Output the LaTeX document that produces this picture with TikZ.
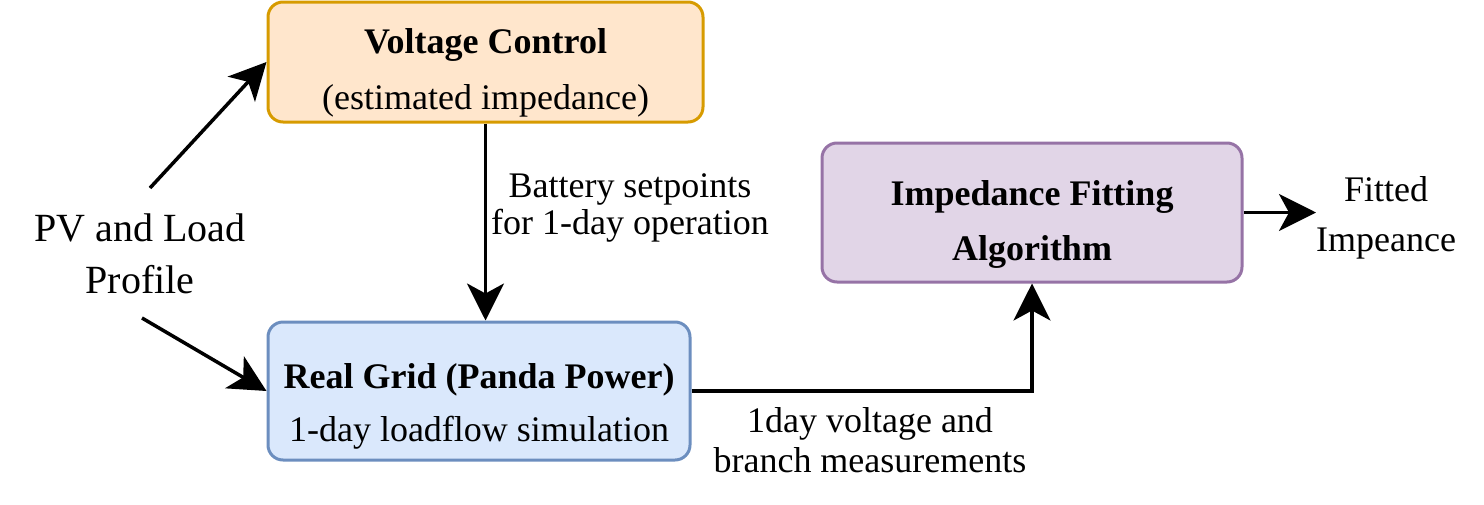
\documentclass[tikz,border=0pt]{standalone}
\usepackage{fontspec}
\setmainfont{Liberation Serif}
\usetikzlibrary{arrows.meta,positioning}
\definecolor{vcfill}{HTML}{FFE6CC}
\definecolor{vcdraw}{HTML}{D79B00}
\definecolor{rgfill}{HTML}{DAE8FC}
\definecolor{rgdraw}{HTML}{6C8EBF}
\definecolor{iffill}{HTML}{E1D5E7}
\definecolor{ifdraw}{HTML}{9673A6}
\tikzset{
  box/.style={rounded corners=15pt, line width=3pt, inner sep=0pt},
  lbl/.style={align=center, inner sep=0pt},
  arr/.style={line width=3.5pt, -{Stealth[length=37pt,width=37pt,inset=10pt]}},
}
\begin{document}
\begin{tikzpicture}[x=1pt,y=-1pt]
\useasboundingbox (0,0) rectangle (1484,504);
\node[box, fill=vcfill, draw=vcdraw, minimum width=435pt, minimum height=120pt] (vc) at (485.5,62) {};
\node[lbl, font=\fontsize{36}{56}\selectfont] (vctext) at (485.5,73)
  {\textbf{Voltage Control}\\(estimated impedance)};
\node[box, fill=rgfill, draw=rgdraw, minimum width=422pt, minimum height=138pt] (rg) at (479,391) {};
\node[lbl, font=\fontsize{36}{53}\selectfont] (rgtext) at (479,406)
  {\textbf{Real Grid (Panda Power)}\\1-day loadflow simulation};
\node[box, fill=iffill, draw=ifdraw, minimum width=420pt, minimum height=139pt] (if) at (1032,212.5) {};
\node[lbl, font=\fontsize{36}{55}\selectfont] (iftext) at (1032,224.5)
  {\textbf{Impedance Fitting}\\\textbf{Algorithm}};
\node[lbl, font=\fontsize{40}{52}\selectfont] (pv) at (140,254) {PV and Load\\Profile};
\node[lbl, font=\fontsize{36}{37}\selectfont] (bat) at (630,208) {Battery setpoints\\for 1-day operation};
\node[lbl, font=\fontsize{36}{40}\selectfont] (meas) at (870,440) {1day voltage and\\branch measurements};
\node[lbl, font=\fontsize{36}{50}\selectfont, anchor=west] (fit) at (1316,218) {Fitted\\Impeance};
\coordinate (pvtop) at (150,188);
\coordinate (pvbot) at (142,318);
\draw[arr] (pvtop) -- (vc.west);
\draw[arr] (pvbot) -- (rg.west);
\draw[arr] (vc.south) -- (vc.south |- rg.north);
\draw[arr] (rg.east) -| (if.south);
\draw[arr] (if.east) -- (if.east -| fit.west);
\end{tikzpicture}
\end{document}
